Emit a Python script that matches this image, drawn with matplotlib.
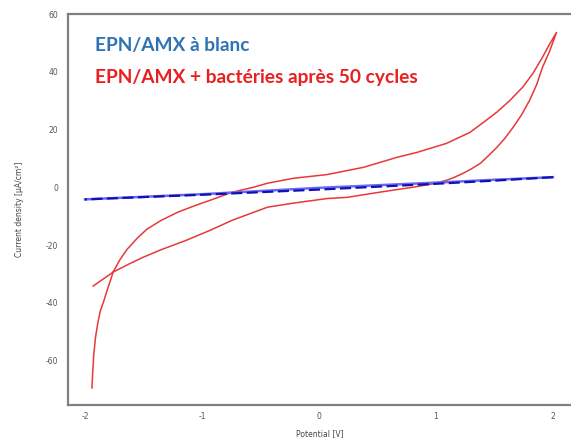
import matplotlib
matplotlib.use("Agg")
import matplotlib.pyplot as plt

# Potential (V) and current density (µA/cm²) of the blank EPN/AMX electrode
blank_fwd_v = [-2.0, -1.5, -1.0, -0.5, 0.0, 0.5, 1.0, 1.5, 2.0]
blank_fwd_j = [-4.2, -3.3, -2.4, -1.3, -0.2, 0.7, 1.6, 2.6, 3.5]
blank_rev_v = [2.0, 1.5, 1.0, 0.5, 0.0, -0.5, -1.0, -1.5, -2.0]
blank_rev_j = [3.5, 2.3, 1.2, 0.2, -0.8, -1.7, -2.6, -3.4, -4.2]

# EPN/AMX + bacteria after 50 cycles: anodic sweep then cathodic return
bact_v = [-1.94, -1.935, -1.925, -1.91, -1.89, -1.87, -1.84, -1.81, -1.78, -1.76,
          -1.70, -1.64, -1.55, -1.47, -1.35, -1.21, -1.07, -0.93,
          -0.74, -0.56, -0.44, -0.22, 0.07, 0.38, 0.67, 0.84, 1.09, 1.29,
          1.40, 1.52, 1.63, 1.74, 1.83, 1.91, 1.97, 2.03,
          1.97, 1.91, 1.86, 1.80, 1.73, 1.66, 1.59, 1.52, 1.45, 1.38, 1.30,
          1.23, 1.16, 1.09, 0.95, 0.80, 0.52,
          0.24, 0.07, -0.22, -0.44, -0.56, -0.74, -0.93, -1.13, -1.36, -1.50,
          -1.63, -1.76, -1.93]
bact_j = [-69.5, -65.0, -58.0, -52.0, -47.0, -43.0, -39.5, -35.6, -32.0, -29.4,
          -25.0, -21.5, -17.5, -14.5, -11.5, -8.7, -6.5, -4.5,
          -1.7, 0.0, 1.4, 3.1, 4.4, 6.9, 10.4, 12.1, 15.2, 19.0,
          22.3, 26.0, 30.0, 34.6, 39.5, 45.0, 49.5, 53.6,
          47.0, 41.5, 35.5, 30.1, 25.0, 20.8, 17.0, 13.8, 11.0, 8.3, 6.3,
          4.8, 3.5, 2.4, 1.0, 0.0, -1.7,
          -3.5, -3.9, -5.5, -6.9, -8.7, -11.4, -14.9, -18.3, -21.8, -24.2,
          -26.7, -29.4, -34.2]

x_ticks = [-2, -1, 0, 1, 2]
y_ticks = [-60, -40, -20, 0, 20, 40, 60]
x_tick_labels = ["-2", "-1", "0", "1", "2"]
y_tick_labels = ["-60", "-40", "-20", "0", "20", "40", "60"]

label_blank = "EPN/AMX à blanc"
label_bact = "EPN/AMX + bactéries après 50 cycles"

W, H = 571, 441
fig = plt.figure(figsize=(W / 100, H / 100), dpi=100)
ax = fig.add_axes([68 / W, 36 / H, (W - 68) / W, (405 - 14) / H])

ax.plot(bact_v, bact_j, color="#e8383a", lw=1.1, solid_joinstyle="round")
ax.plot(blank_fwd_v, blank_fwd_j, color="#6a6af0", lw=1.8)
ax.plot(blank_rev_v, blank_rev_j, color="#1010b8", lw=1.6, dashes=(5, 2))

ax.set_xlim(-2.145, 2.154)
ax.set_ylim(-75.4, 60.0)
ax.set_xticks(x_ticks)
ax.set_xticklabels(x_tick_labels)
ax.set_yticks(y_ticks)
ax.set_yticklabels(y_tick_labels)
ax.tick_params(axis="both", length=0, labelsize=5.5, colors="#555555")
ax.tick_params(axis="y", pad=7)
ax.tick_params(axis="x", pad=5)

for side in ("left", "bottom", "top"):
    ax.spines[side].set_color("#808080")
    ax.spines[side].set_linewidth(1.6)
ax.spines["right"].set_visible(False)

ax.set_xlabel("Potential [V]", fontsize=5.5, color="#444444", labelpad=6)
ax.set_ylabel("Current density [µA/cm²]", fontsize=5.5, color="#444444", labelpad=16)

fig.text(95 / W, 1 - 45 / H, label_blank, color="#2e74b5", fontsize=13.8,
         fontweight="bold", family=["Lato", "DejaVu Sans"], va="center", ha="left")
fig.text(95 / W, 1 - 77 / H, label_bact, color="#e82020", fontsize=13.8,
         fontweight="bold", family=["Lato", "DejaVu Sans"], va="center", ha="left")

fig.savefig("out.png", dpi=100)
